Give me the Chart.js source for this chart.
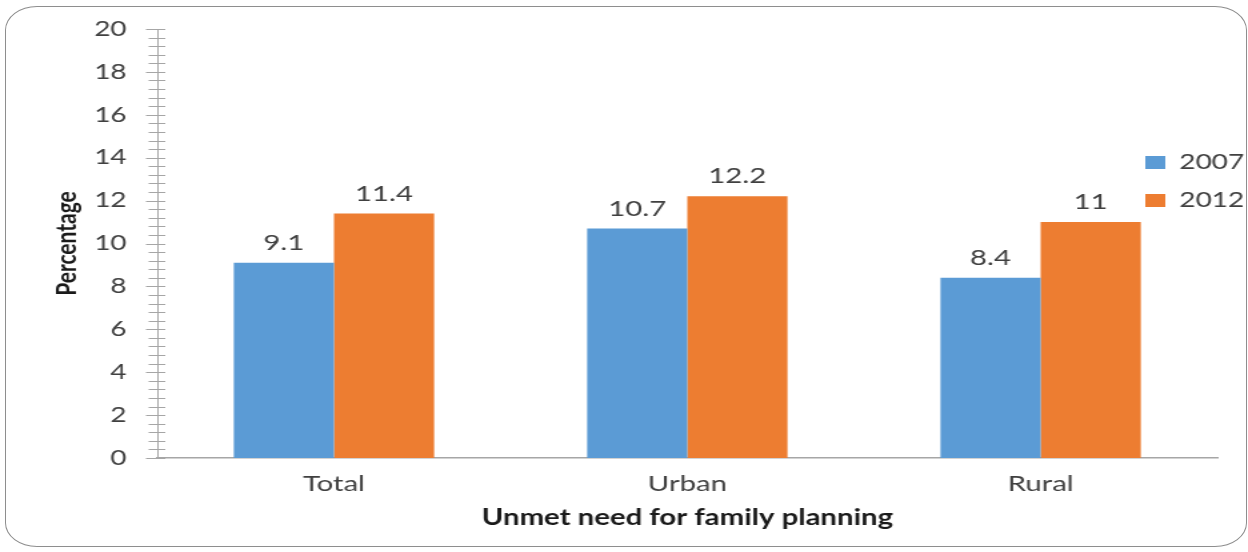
<!DOCTYPE html>
<html>
<head>
<meta charset="utf-8">
<script src="https://cdn.jsdelivr.net/npm/chart.js@4.4.1/dist/chart.umd.min.js"></script>
<style>
  body { margin: 0; background: #fff; }
  #wrap { position: relative; width: 1248px; height: 552px; overflow: hidden; }
  #chart { position: absolute; left: 0; top: 0; }
  #frame { position: absolute; left: 5px; top: 6px; width: 1242px; height: 541px; box-sizing: border-box;
           border: 1.5px solid #8e8e8e; border-radius: 32px / 24px; pointer-events: none; }
</style>
</head>
<body>
<div id="wrap">
  <!-- the original picture is stretched sideways, so the canvas is too -->
  <canvas id="chart" width="936" height="552" style="width:1248px;height:552px"></canvas>
  <div id="frame"></div>
</div>
<script>
// values
let categories = ['Total', 'Urban', 'Rural'];
let seriesNames = ['2007', '2012'];
let values2007 = [9.1, 10.7, 8.4];
let values2012 = [11.4, 12.2, 11];
let yTicks = [0, 2, 4, 6, 8, 10, 12, 14, 16, 18, 20];
let minorStep = 0.4;

let blue = '#5B9BD5';
let orange = '#ED7D31';
let textColor = '#404040';
let axisColor = '#a6a6a6';

Chart.defaults.font.family = 'Lato';
Chart.defaults.color = textColor;

const extras = {
    id: 'extras',
    afterLayout: function(chart) {
        // legend sits inside the plot, near the right end
        let lg = chart.legend;
        lg.left = 842;
        lg.top = 135;
        lg.right = lg.left + lg.width;
        lg.bottom = lg.top + lg.height;
    },
    afterDatasetsDraw: function(chart) {
        let ctx = chart.ctx;
        ctx.save();
        ctx.font = '22px Lato';
        ctx.fillStyle = textColor;
        ctx.textAlign = 'center';
        ctx.textBaseline = 'middle';
        chart.data.datasets.forEach(function(ds, i) {
            chart.getDatasetMeta(i).data.forEach(function(bar, j) {
                ctx.fillText(String(ds.data[j]), bar.x, bar.y - 20);
            });
        });
        ctx.restore();
    },
    afterDraw: function(chart) {
        // minor ticks crossing the y axis, major ones sticking out left
        let y = chart.scales.y;
        let x0 = chart.chartArea.left;
        let ctx = chart.ctx;
        ctx.save();
        ctx.strokeStyle = axisColor;
        ctx.lineWidth = 1;
        let n = Math.round((y.max - y.min) / minorStep);
        for (let i = 0; i <= n; i++) {
            let v = y.min + i * minorStep;
            let py = Math.round(y.getPixelForValue(v)) + 0.5;
            ctx.beginPath();
            ctx.moveTo(x0 - 6.5, py);
            ctx.lineTo(x0 + 6, py);
            ctx.stroke();
        }
        yTicks.forEach(function(v) {
            let py = Math.round(y.getPixelForValue(v)) + 0.5;
            ctx.beginPath();
            ctx.moveTo(x0 - 8.5, py);
            ctx.lineTo(x0, py);
            ctx.stroke();
        });
        ctx.restore();
    }
};

let ctx = document.getElementById('chart').getContext('2d');
window.myBar = new Chart(ctx, {
    type: 'bar',
    data: {
        labels: categories,
        datasets: [
            { label: seriesNames[0], data: values2007, backgroundColor: blue },
            { label: seriesNames[1], data: values2012, backgroundColor: orange }
        ]
    },
    options: {
        responsive: false,
        animation: false,
        devicePixelRatio: 1,
        layout: { padding: { left: 0, right: 23, top: 29, bottom: 0 } },
        datasets: {
            bar: { barPercentage: 1, categoryPercentage: 0.567 }
        },
        plugins: {
            legend: {
                position: 'chartArea',
                align: 'start',
                labels: {
                    boxWidth: 15,
                    boxHeight: 13,
                    padding: 17,
                    color: textColor,
                    font: { size: 21 }
                }
            },
            tooltip: { enabled: false }
        },
        scales: {
            x: {
                grid: { display: false, drawTicks: false },
                border: { display: true, color: axisColor, width: 1.5 },
                ticks: { padding: 13, font: { size: 22 }, color: textColor },
                title: {
                    display: true,
                    text: 'Unmet need for family planning',
                    color: '#1a1a1a',
                    font: { size: 22, weight: 'bold' },
                    padding: { top: 0, bottom: 21 }
                },
                afterFit: function(s) { s.height = 94; s.paddingLeft = 0; s.paddingRight = 0; }
            },
            y: {
                min: 0,
                max: 20,
                afterBuildTicks: function(s) {
                    s.ticks = yTicks.map(function(v) { return { value: v }; });
                },
                grid: { display: false, drawTicks: false },
                border: { display: true, color: axisColor, width: 1 },
                ticks: { padding: 23, font: { size: 21 }, color: textColor },
                title: {
                    display: true,
                    text: 'Percentage',
                    color: '#1a1a1a',
                    font: { size: 21, weight: 'bold' },
                    padding: { top: 38, bottom: 0 }
                },
                afterFit: function(s) { s.width = 118; s.paddingTop = 0; s.paddingBottom = 0; }
            }
        }
    },
    plugins: [extras]
});
</script>
</body>
</html>
